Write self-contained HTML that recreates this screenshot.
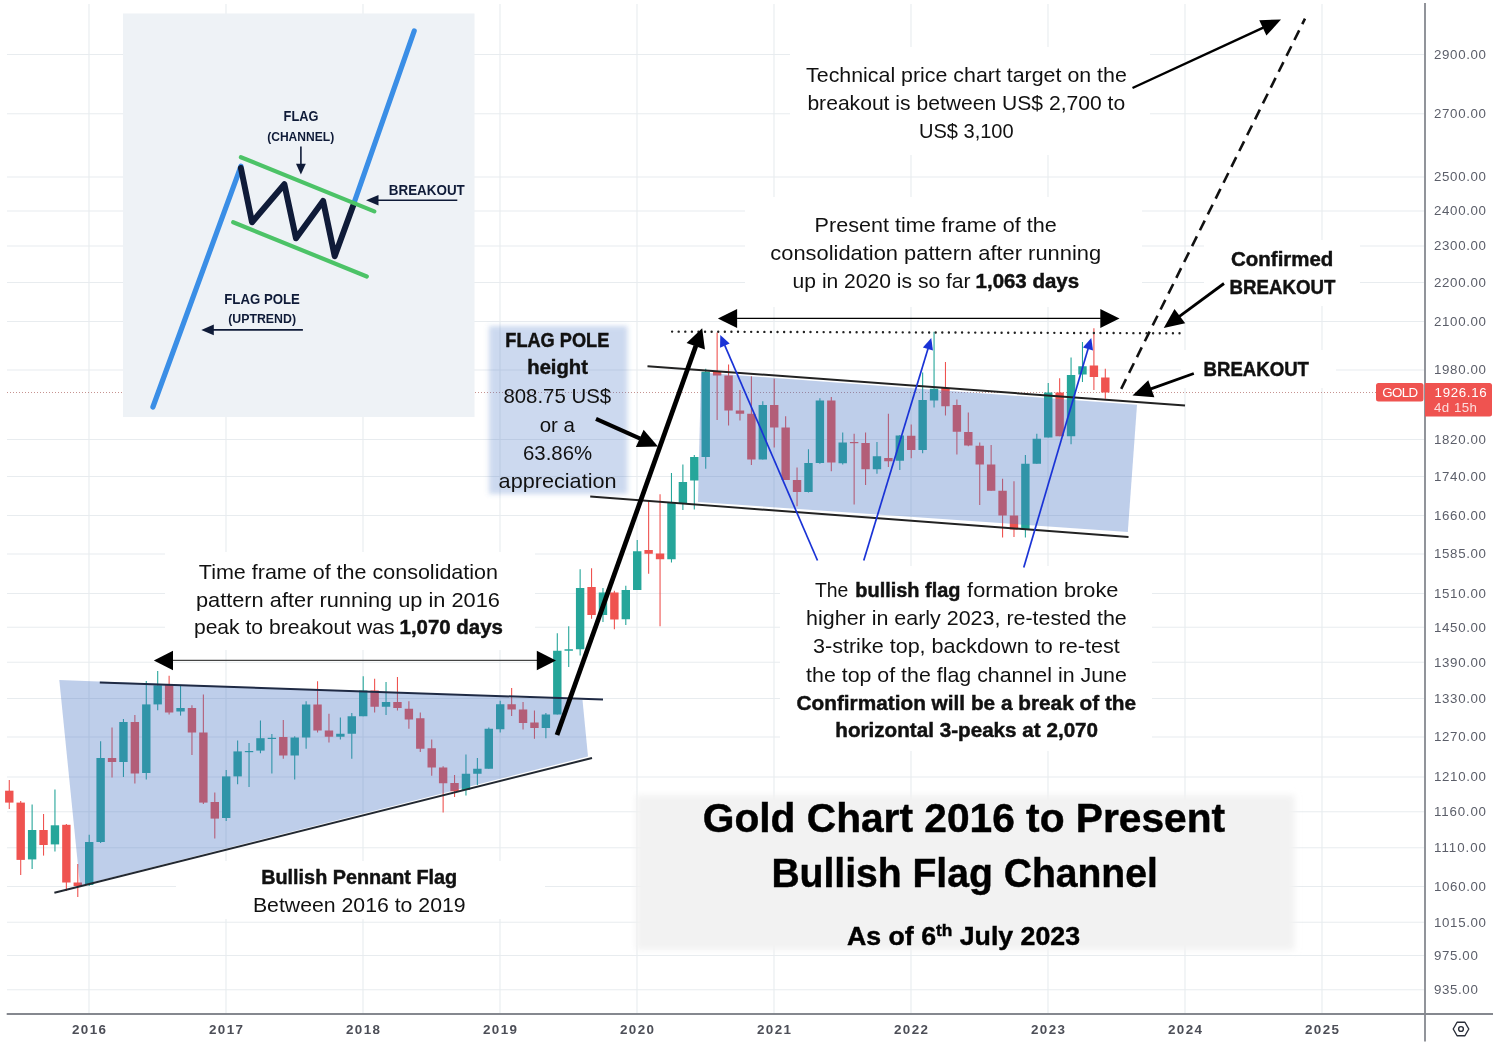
<!DOCTYPE html>
<html lang="en"><head><meta charset="utf-8"><title>Gold Chart 2016 to Present - Bullish Flag Channel</title>
<style>html,body{margin:0;padding:0;background:#fff;}body{width:1499px;height:1048px;overflow:hidden;}svg{display:block;}text{font-family:'Liberation Sans', Arial, sans-serif;}</style></head><body>
<svg width="1499" height="1048" viewBox="0 0 1499 1048">
<defs>
<filter id="soft" x="-10%" y="-10%" width="120%" height="120%"><feGaussianBlur stdDeviation="2.8"/></filter>
<filter id="soft2" x="-5%" y="-10%" width="110%" height="120%"><feGaussianBlur stdDeviation="3"/></filter>
</defs>
<rect width="1499" height="1048" fill="#ffffff"/>
<g stroke="#e8ecef" stroke-width="1.1" fill="none">
<line x1="7" y1="54.50" x2="1424" y2="54.50"/>
<line x1="7" y1="113.70" x2="1424" y2="113.70"/>
<line x1="7" y1="177.00" x2="1424" y2="177.00"/>
<line x1="7" y1="211.00" x2="1424" y2="211.00"/>
<line x1="7" y1="246.00" x2="1424" y2="246.00"/>
<line x1="7" y1="282.50" x2="1424" y2="282.50"/>
<line x1="7" y1="321.50" x2="1424" y2="321.50"/>
<line x1="7" y1="370.00" x2="1424" y2="370.00"/>
<line x1="7" y1="439.50" x2="1424" y2="439.50"/>
<line x1="7" y1="476.50" x2="1424" y2="476.50"/>
<line x1="7" y1="515.50" x2="1424" y2="515.50"/>
<line x1="7" y1="554.00" x2="1424" y2="554.00"/>
<line x1="7" y1="593.50" x2="1424" y2="593.50"/>
<line x1="7" y1="627.25" x2="1424" y2="627.25"/>
<line x1="7" y1="662.25" x2="1424" y2="662.25"/>
<line x1="7" y1="698.50" x2="1424" y2="698.50"/>
<line x1="7" y1="737.00" x2="1424" y2="737.00"/>
<line x1="7" y1="777.00" x2="1424" y2="777.00"/>
<line x1="7" y1="811.75" x2="1424" y2="811.75"/>
<line x1="7" y1="847.75" x2="1424" y2="847.75"/>
<line x1="7" y1="886.50" x2="1424" y2="886.50"/>
<line x1="7" y1="922.25" x2="1424" y2="922.25"/>
<line x1="7" y1="955.50" x2="1424" y2="955.50"/>
<line x1="7" y1="989.75" x2="1424" y2="989.75"/>
<line x1="89.0" y1="4" x2="89.0" y2="1013"/>
<line x1="226.0" y1="4" x2="226.0" y2="1013"/>
<line x1="363.0" y1="4" x2="363.0" y2="1013"/>
<line x1="500.0" y1="4" x2="500.0" y2="1013"/>
<line x1="637.0" y1="4" x2="637.0" y2="1013"/>
<line x1="774.0" y1="4" x2="774.0" y2="1013"/>
<line x1="911.0" y1="4" x2="911.0" y2="1013"/>
<line x1="1048.0" y1="4" x2="1048.0" y2="1013"/>
<line x1="1185.0" y1="4" x2="1185.0" y2="1013"/>
<line x1="1322.0" y1="4" x2="1322.0" y2="1013"/>
</g>
<g fill="#ffffff">
<rect x="790" y="47" width="360" height="108"/>
<rect x="745" y="197" width="397" height="110"/>
<rect x="165" y="552" width="370" height="98"/>
<rect x="176" y="861" width="369" height="58"/>
<rect x="780" y="566" width="372" height="185"/>
<rect x="1204" y="240" width="156" height="66"/>
<rect x="1181" y="350" width="155" height="38"/>
</g>
<line x1="7" y1="392.5" x2="1376" y2="392.5" stroke="#a85a56" stroke-width="1" stroke-dasharray="1 2" opacity="0.65"/>
<g>
<line x1="9.28" y1="780.00" x2="9.28" y2="809.00" stroke="#ef5350" stroke-width="1.1"/>
<rect x="5.08" y="790.70" width="8.40" height="11.90" fill="#ef5350"/>
<line x1="20.70" y1="801.00" x2="20.70" y2="875.00" stroke="#ef5350" stroke-width="1.1"/>
<rect x="16.50" y="802.60" width="8.40" height="57.30" fill="#ef5350"/>
<line x1="32.12" y1="804.50" x2="32.12" y2="869.00" stroke="#26a69a" stroke-width="1.1"/>
<rect x="27.92" y="830.00" width="8.40" height="29.40" fill="#26a69a"/>
<line x1="43.53" y1="814.00" x2="43.53" y2="855.60" stroke="#ef5350" stroke-width="1.1"/>
<rect x="39.33" y="830.00" width="8.40" height="15.00" fill="#ef5350"/>
<line x1="54.95" y1="789.50" x2="54.95" y2="851.50" stroke="#26a69a" stroke-width="1.1"/>
<rect x="50.75" y="825.30" width="8.40" height="19.10" fill="#26a69a"/>
<line x1="66.37" y1="824.00" x2="66.37" y2="891.00" stroke="#ef5350" stroke-width="1.1"/>
<rect x="62.17" y="824.80" width="8.40" height="57.70" fill="#ef5350"/>
<line x1="77.78" y1="864.00" x2="77.78" y2="897.00" stroke="#ef5350" stroke-width="1.1"/>
<rect x="73.58" y="882.50" width="8.40" height="3.50" fill="#ef5350"/>
<line x1="89.20" y1="834.80" x2="89.20" y2="886.00" stroke="#26a69a" stroke-width="1.1"/>
<rect x="85.00" y="842.00" width="8.40" height="43.00" fill="#26a69a"/>
<line x1="100.62" y1="741.30" x2="100.62" y2="843.00" stroke="#26a69a" stroke-width="1.1"/>
<rect x="96.42" y="758.00" width="8.40" height="84.00" fill="#26a69a"/>
<line x1="112.03" y1="727.50" x2="112.03" y2="777.60" stroke="#ef5350" stroke-width="1.1"/>
<rect x="107.83" y="758.00" width="8.40" height="4.00" fill="#ef5350"/>
<line x1="123.45" y1="719.00" x2="123.45" y2="777.00" stroke="#26a69a" stroke-width="1.1"/>
<rect x="119.25" y="722.00" width="8.40" height="40.00" fill="#26a69a"/>
<line x1="134.87" y1="715.00" x2="134.87" y2="783.50" stroke="#ef5350" stroke-width="1.1"/>
<rect x="130.67" y="722.00" width="8.40" height="51.50" fill="#ef5350"/>
<line x1="146.28" y1="681.00" x2="146.28" y2="779.50" stroke="#26a69a" stroke-width="1.1"/>
<rect x="142.09" y="704.40" width="8.40" height="68.60" fill="#26a69a"/>
<line x1="157.70" y1="671.00" x2="157.70" y2="710.30" stroke="#26a69a" stroke-width="1.1"/>
<rect x="153.50" y="685.30" width="8.40" height="19.10" fill="#26a69a"/>
<line x1="169.12" y1="675.80" x2="169.12" y2="714.40" stroke="#ef5350" stroke-width="1.1"/>
<rect x="164.92" y="684.60" width="8.40" height="27.90" fill="#ef5350"/>
<line x1="180.54" y1="685.80" x2="180.54" y2="715.60" stroke="#26a69a" stroke-width="1.1"/>
<rect x="176.34" y="708.00" width="8.40" height="3.50" fill="#26a69a"/>
<line x1="191.95" y1="705.30" x2="191.95" y2="755.00" stroke="#ef5350" stroke-width="1.1"/>
<rect x="187.75" y="708.00" width="8.40" height="24.50" fill="#ef5350"/>
<line x1="203.37" y1="694.60" x2="203.37" y2="804.00" stroke="#ef5350" stroke-width="1.1"/>
<rect x="199.17" y="732.50" width="8.40" height="70.10" fill="#ef5350"/>
<line x1="214.79" y1="792.40" x2="214.79" y2="838.40" stroke="#ef5350" stroke-width="1.1"/>
<rect x="210.59" y="802.00" width="8.40" height="16.60" fill="#ef5350"/>
<line x1="226.20" y1="770.00" x2="226.20" y2="821.00" stroke="#26a69a" stroke-width="1.1"/>
<rect x="222.00" y="776.40" width="8.40" height="41.60" fill="#26a69a"/>
<line x1="237.62" y1="740.60" x2="237.62" y2="784.30" stroke="#26a69a" stroke-width="1.1"/>
<rect x="233.42" y="751.40" width="8.40" height="25.00" fill="#26a69a"/>
<line x1="249.04" y1="743.00" x2="249.04" y2="787.00" stroke="#26a69a" stroke-width="1.1"/>
<rect x="244.84" y="751.00" width="8.40" height="1.20" fill="#26a69a"/>
<line x1="260.45" y1="720.40" x2="260.45" y2="753.30" stroke="#26a69a" stroke-width="1.1"/>
<rect x="256.25" y="738.20" width="8.40" height="12.40" fill="#26a69a"/>
<line x1="271.87" y1="734.00" x2="271.87" y2="773.50" stroke="#26a69a" stroke-width="1.1"/>
<rect x="267.67" y="737.80" width="8.40" height="1.20" fill="#26a69a"/>
<line x1="283.29" y1="720.00" x2="283.29" y2="758.75" stroke="#ef5350" stroke-width="1.1"/>
<rect x="279.09" y="737.00" width="8.40" height="18.50" fill="#ef5350"/>
<line x1="294.71" y1="736.25" x2="294.71" y2="779.50" stroke="#26a69a" stroke-width="1.1"/>
<rect x="290.51" y="737.50" width="8.40" height="18.00" fill="#26a69a"/>
<line x1="306.12" y1="701.25" x2="306.12" y2="748.75" stroke="#26a69a" stroke-width="1.1"/>
<rect x="301.92" y="704.50" width="8.40" height="33.00" fill="#26a69a"/>
<line x1="317.54" y1="681.25" x2="317.54" y2="732.50" stroke="#ef5350" stroke-width="1.1"/>
<rect x="313.34" y="704.50" width="8.40" height="26.00" fill="#ef5350"/>
<line x1="328.96" y1="713.75" x2="328.96" y2="742.50" stroke="#ef5350" stroke-width="1.1"/>
<rect x="324.76" y="730.50" width="8.40" height="6.25" fill="#ef5350"/>
<line x1="340.37" y1="717.50" x2="340.37" y2="739.50" stroke="#26a69a" stroke-width="1.1"/>
<rect x="336.17" y="733.75" width="8.40" height="3.00" fill="#26a69a"/>
<line x1="351.79" y1="713.00" x2="351.79" y2="758.75" stroke="#26a69a" stroke-width="1.1"/>
<rect x="347.59" y="716.25" width="8.40" height="17.50" fill="#26a69a"/>
<line x1="363.21" y1="676.25" x2="363.21" y2="716.25" stroke="#26a69a" stroke-width="1.1"/>
<rect x="359.01" y="690.50" width="8.40" height="25.75" fill="#26a69a"/>
<line x1="374.62" y1="678.75" x2="374.62" y2="712.50" stroke="#ef5350" stroke-width="1.1"/>
<rect x="370.43" y="690.50" width="8.40" height="16.25" fill="#ef5350"/>
<line x1="386.04" y1="682.00" x2="386.04" y2="715.00" stroke="#26a69a" stroke-width="1.1"/>
<rect x="381.84" y="702.00" width="8.40" height="4.75" fill="#26a69a"/>
<line x1="397.46" y1="677.00" x2="397.46" y2="710.50" stroke="#ef5350" stroke-width="1.1"/>
<rect x="393.26" y="702.00" width="8.40" height="6.00" fill="#ef5350"/>
<line x1="408.88" y1="701.25" x2="408.88" y2="728.75" stroke="#ef5350" stroke-width="1.1"/>
<rect x="404.68" y="708.75" width="8.40" height="10.75" fill="#ef5350"/>
<line x1="420.29" y1="712.50" x2="420.29" y2="752.00" stroke="#ef5350" stroke-width="1.1"/>
<rect x="416.09" y="718.25" width="8.40" height="30.50" fill="#ef5350"/>
<line x1="431.71" y1="739.50" x2="431.71" y2="775.75" stroke="#ef5350" stroke-width="1.1"/>
<rect x="427.51" y="748.25" width="8.40" height="19.25" fill="#ef5350"/>
<line x1="443.13" y1="766.25" x2="443.13" y2="812.50" stroke="#ef5350" stroke-width="1.1"/>
<rect x="438.93" y="767.50" width="8.40" height="15.75" fill="#ef5350"/>
<line x1="454.54" y1="775.00" x2="454.54" y2="797.00" stroke="#ef5350" stroke-width="1.1"/>
<rect x="450.34" y="783.00" width="8.40" height="8.25" fill="#ef5350"/>
<line x1="465.96" y1="754.50" x2="465.96" y2="795.50" stroke="#26a69a" stroke-width="1.1"/>
<rect x="461.76" y="773.75" width="8.40" height="16.25" fill="#26a69a"/>
<line x1="477.38" y1="758.00" x2="477.38" y2="785.00" stroke="#26a69a" stroke-width="1.1"/>
<rect x="473.18" y="768.75" width="8.40" height="5.00" fill="#26a69a"/>
<line x1="488.79" y1="727.50" x2="488.79" y2="768.75" stroke="#26a69a" stroke-width="1.1"/>
<rect x="484.59" y="728.75" width="8.40" height="40.00" fill="#26a69a"/>
<line x1="500.21" y1="700.75" x2="500.21" y2="732.50" stroke="#26a69a" stroke-width="1.1"/>
<rect x="496.01" y="704.25" width="8.40" height="25.00" fill="#26a69a"/>
<line x1="511.63" y1="688.00" x2="511.63" y2="716.00" stroke="#ef5350" stroke-width="1.1"/>
<rect x="507.43" y="704.25" width="8.40" height="5.25" fill="#ef5350"/>
<line x1="523.05" y1="702.00" x2="523.05" y2="729.50" stroke="#ef5350" stroke-width="1.1"/>
<rect x="518.85" y="709.50" width="8.40" height="13.50" fill="#ef5350"/>
<line x1="534.46" y1="710.50" x2="534.46" y2="738.75" stroke="#ef5350" stroke-width="1.1"/>
<rect x="530.26" y="722.50" width="8.40" height="5.50" fill="#ef5350"/>
<line x1="545.88" y1="713.00" x2="545.88" y2="738.25" stroke="#26a69a" stroke-width="1.1"/>
<rect x="541.68" y="714.50" width="8.40" height="13.50" fill="#26a69a"/>
<line x1="557.30" y1="633.25" x2="557.30" y2="714.50" stroke="#26a69a" stroke-width="1.1"/>
<rect x="553.10" y="650.75" width="8.40" height="63.75" fill="#26a69a"/>
<line x1="568.71" y1="626.25" x2="568.71" y2="667.00" stroke="#26a69a" stroke-width="1.1"/>
<rect x="564.51" y="649.25" width="8.40" height="1.50" fill="#26a69a"/>
<line x1="580.13" y1="569.25" x2="580.13" y2="655.50" stroke="#26a69a" stroke-width="1.1"/>
<rect x="575.93" y="588.00" width="8.40" height="61.25" fill="#26a69a"/>
<line x1="591.55" y1="568.25" x2="591.55" y2="618.75" stroke="#ef5350" stroke-width="1.1"/>
<rect x="587.35" y="587.00" width="8.40" height="28.00" fill="#ef5350"/>
<line x1="602.97" y1="588.00" x2="602.97" y2="622.00" stroke="#26a69a" stroke-width="1.1"/>
<rect x="598.76" y="592.50" width="8.40" height="22.50" fill="#26a69a"/>
<line x1="614.38" y1="590.75" x2="614.38" y2="629.25" stroke="#ef5350" stroke-width="1.1"/>
<rect x="610.18" y="592.50" width="8.40" height="27.00" fill="#ef5350"/>
<line x1="625.80" y1="585.75" x2="625.80" y2="625.00" stroke="#26a69a" stroke-width="1.1"/>
<rect x="621.60" y="590.00" width="8.40" height="29.25" fill="#26a69a"/>
<line x1="637.22" y1="540.00" x2="637.22" y2="590.00" stroke="#26a69a" stroke-width="1.1"/>
<rect x="633.02" y="551.25" width="8.40" height="38.75" fill="#26a69a"/>
<line x1="648.63" y1="500.00" x2="648.63" y2="573.75" stroke="#ef5350" stroke-width="1.1"/>
<rect x="644.43" y="550.00" width="8.40" height="3.75" fill="#ef5350"/>
<line x1="660.05" y1="494.25" x2="660.05" y2="626.25" stroke="#ef5350" stroke-width="1.1"/>
<rect x="655.85" y="553.50" width="8.40" height="5.75" fill="#ef5350"/>
<line x1="671.47" y1="473.00" x2="671.47" y2="562.50" stroke="#26a69a" stroke-width="1.1"/>
<rect x="667.27" y="502.50" width="8.40" height="56.75" fill="#26a69a"/>
<line x1="682.88" y1="464.50" x2="682.88" y2="510.00" stroke="#26a69a" stroke-width="1.1"/>
<rect x="678.68" y="482.00" width="8.40" height="21.25" fill="#26a69a"/>
<line x1="694.30" y1="455.00" x2="694.30" y2="509.50" stroke="#26a69a" stroke-width="1.1"/>
<rect x="690.10" y="457.00" width="8.40" height="23.50" fill="#26a69a"/>
<line x1="705.72" y1="368.75" x2="705.72" y2="468.75" stroke="#26a69a" stroke-width="1.1"/>
<rect x="701.52" y="371.75" width="8.40" height="85.25" fill="#26a69a"/>
<line x1="717.13" y1="332.50" x2="717.13" y2="420.00" stroke="#ef5350" stroke-width="1.1"/>
<rect x="712.93" y="371.75" width="8.40" height="3.75" fill="#ef5350"/>
<line x1="728.55" y1="364.50" x2="728.55" y2="425.50" stroke="#ef5350" stroke-width="1.1"/>
<rect x="724.35" y="375.50" width="8.40" height="35.00" fill="#ef5350"/>
<line x1="739.97" y1="390.00" x2="739.97" y2="420.50" stroke="#ef5350" stroke-width="1.1"/>
<rect x="735.77" y="410.50" width="8.40" height="3.25" fill="#ef5350"/>
<line x1="751.39" y1="376.25" x2="751.39" y2="465.00" stroke="#ef5350" stroke-width="1.1"/>
<rect x="747.19" y="413.75" width="8.40" height="45.75" fill="#ef5350"/>
<line x1="762.80" y1="401.25" x2="762.80" y2="459.50" stroke="#26a69a" stroke-width="1.1"/>
<rect x="758.60" y="405.00" width="8.40" height="54.50" fill="#26a69a"/>
<line x1="774.22" y1="378.75" x2="774.22" y2="447.50" stroke="#ef5350" stroke-width="1.1"/>
<rect x="770.02" y="405.00" width="8.40" height="22.50" fill="#ef5350"/>
<line x1="785.64" y1="416.25" x2="785.64" y2="480.00" stroke="#ef5350" stroke-width="1.1"/>
<rect x="781.44" y="427.50" width="8.40" height="52.50" fill="#ef5350"/>
<line x1="797.05" y1="467.50" x2="797.05" y2="506.25" stroke="#ef5350" stroke-width="1.1"/>
<rect x="792.85" y="480.00" width="8.40" height="12.00" fill="#ef5350"/>
<line x1="808.47" y1="449.25" x2="808.47" y2="492.50" stroke="#26a69a" stroke-width="1.1"/>
<rect x="804.27" y="463.00" width="8.40" height="29.00" fill="#26a69a"/>
<line x1="819.89" y1="398.25" x2="819.89" y2="463.75" stroke="#26a69a" stroke-width="1.1"/>
<rect x="815.69" y="400.50" width="8.40" height="62.50" fill="#26a69a"/>
<line x1="831.31" y1="397.00" x2="831.31" y2="471.25" stroke="#ef5350" stroke-width="1.1"/>
<rect x="827.11" y="400.50" width="8.40" height="62.00" fill="#ef5350"/>
<line x1="842.72" y1="432.50" x2="842.72" y2="464.50" stroke="#26a69a" stroke-width="1.1"/>
<rect x="838.52" y="442.50" width="8.40" height="20.75" fill="#26a69a"/>
<line x1="854.14" y1="433.75" x2="854.14" y2="504.50" stroke="#ef5350" stroke-width="1.1"/>
<rect x="849.94" y="442.00" width="8.40" height="1.20" fill="#ef5350"/>
<line x1="865.56" y1="432.50" x2="865.56" y2="485.00" stroke="#ef5350" stroke-width="1.1"/>
<rect x="861.36" y="443.00" width="8.40" height="26.25" fill="#ef5350"/>
<line x1="876.97" y1="442.00" x2="876.97" y2="473.75" stroke="#26a69a" stroke-width="1.1"/>
<rect x="872.77" y="456.25" width="8.40" height="13.00" fill="#26a69a"/>
<line x1="888.39" y1="413.75" x2="888.39" y2="467.00" stroke="#ef5350" stroke-width="1.1"/>
<rect x="884.19" y="458.00" width="8.40" height="3.25" fill="#ef5350"/>
<line x1="899.81" y1="435.00" x2="899.81" y2="470.00" stroke="#26a69a" stroke-width="1.1"/>
<rect x="895.61" y="435.50" width="8.40" height="25.25" fill="#26a69a"/>
<line x1="911.22" y1="424.50" x2="911.22" y2="458.25" stroke="#ef5350" stroke-width="1.1"/>
<rect x="907.02" y="435.75" width="8.40" height="14.25" fill="#ef5350"/>
<line x1="922.64" y1="372.50" x2="922.64" y2="453.25" stroke="#26a69a" stroke-width="1.1"/>
<rect x="918.44" y="400.00" width="8.40" height="50.00" fill="#26a69a"/>
<line x1="934.06" y1="331.75" x2="934.06" y2="407.50" stroke="#26a69a" stroke-width="1.1"/>
<rect x="929.86" y="388.75" width="8.40" height="11.75" fill="#26a69a"/>
<line x1="945.48" y1="362.00" x2="945.48" y2="415.50" stroke="#ef5350" stroke-width="1.1"/>
<rect x="941.27" y="388.00" width="8.40" height="18.25" fill="#ef5350"/>
<line x1="956.89" y1="399.50" x2="956.89" y2="454.50" stroke="#ef5350" stroke-width="1.1"/>
<rect x="952.69" y="405.00" width="8.40" height="26.75" fill="#ef5350"/>
<line x1="968.31" y1="412.50" x2="968.31" y2="446.25" stroke="#ef5350" stroke-width="1.1"/>
<rect x="964.11" y="432.00" width="8.40" height="13.50" fill="#ef5350"/>
<line x1="979.73" y1="442.50" x2="979.73" y2="505.00" stroke="#ef5350" stroke-width="1.1"/>
<rect x="975.53" y="445.75" width="8.40" height="18.75" fill="#ef5350"/>
<line x1="991.14" y1="445.00" x2="991.14" y2="490.75" stroke="#ef5350" stroke-width="1.1"/>
<rect x="986.94" y="464.50" width="8.40" height="26.25" fill="#ef5350"/>
<line x1="1002.56" y1="478.75" x2="1002.56" y2="537.50" stroke="#ef5350" stroke-width="1.1"/>
<rect x="998.36" y="490.75" width="8.40" height="24.75" fill="#ef5350"/>
<line x1="1013.98" y1="481.25" x2="1013.98" y2="537.00" stroke="#ef5350" stroke-width="1.1"/>
<rect x="1009.78" y="515.50" width="8.40" height="14.00" fill="#ef5350"/>
<line x1="1025.39" y1="455.00" x2="1025.39" y2="537.50" stroke="#26a69a" stroke-width="1.1"/>
<rect x="1021.19" y="463.75" width="8.40" height="65.75" fill="#26a69a"/>
<line x1="1036.81" y1="433.75" x2="1036.81" y2="463.75" stroke="#26a69a" stroke-width="1.1"/>
<rect x="1032.61" y="438.75" width="8.40" height="25.00" fill="#26a69a"/>
<line x1="1048.23" y1="383.00" x2="1048.23" y2="437.50" stroke="#26a69a" stroke-width="1.1"/>
<rect x="1044.03" y="392.50" width="8.40" height="45.00" fill="#26a69a"/>
<line x1="1059.64" y1="378.25" x2="1059.64" y2="436.25" stroke="#ef5350" stroke-width="1.1"/>
<rect x="1055.44" y="392.50" width="8.40" height="43.75" fill="#ef5350"/>
<line x1="1071.06" y1="357.50" x2="1071.06" y2="444.25" stroke="#26a69a" stroke-width="1.1"/>
<rect x="1066.86" y="375.00" width="8.40" height="61.25" fill="#26a69a"/>
<line x1="1082.48" y1="342.00" x2="1082.48" y2="382.00" stroke="#26a69a" stroke-width="1.1"/>
<rect x="1078.28" y="366.25" width="8.40" height="8.25" fill="#26a69a"/>
<line x1="1093.90" y1="328.25" x2="1093.90" y2="390.00" stroke="#ef5350" stroke-width="1.1"/>
<rect x="1089.70" y="365.50" width="8.40" height="11.50" fill="#ef5350"/>
<line x1="1105.31" y1="368.75" x2="1105.31" y2="398.75" stroke="#ef5350" stroke-width="1.1"/>
<rect x="1101.11" y="377.50" width="8.40" height="15.00" fill="#ef5350"/>
</g>
<g>
<rect x="123" y="13.5" width="351.5" height="403.5" fill="#eef2f6"/>
<g fill="none" stroke-linecap="round" stroke-linejoin="round">
<path d="M233.2 222.2 L366.8 276.5" stroke="#4cc367" stroke-width="4.2"/>
<path d="M152.9 407 L240.9 166.3" stroke="#3a8ee6" stroke-width="5.2"/>
<path d="M353.6 204.2 L414.2 31" stroke="#3a8ee6" stroke-width="5.2"/>
<path d="M240.9 168 L252 222.2 L284.4 184.3 L296 238.3 L323.1 200.9 L334.7 256.2 L353.2 205.5" stroke="#0f1b38" stroke-width="6"/>
<path d="M240.9 157.2 L374.3 211.4" stroke="#4cc367" stroke-width="4.2"/>
</g>
<g stroke="#0f1b38" stroke-width="1.6" fill="#0f1b38">
<line x1="300.9" y1="146.5" x2="300.9" y2="166"/><path d="M300.9 174.6 L296 163.8 L305.8 163.8 Z" stroke="none"/>
<line x1="457.3" y1="200.3" x2="376" y2="200.3"/><path d="M366 200.3 L378.5 195 L378.5 205.6 Z" stroke="none"/>
<line x1="302.9" y1="329.9" x2="211" y2="329.9"/><path d="M201.3 329.9 L213.8 324.6 L213.8 335.2 Z" stroke="none"/>
</g>
<g fill="#0f1b38" font-weight="700">
<text x="283.6" y="121.3" font-size="15.3" textLength="34.8" lengthAdjust="spacingAndGlyphs">FLAG</text>
<text x="267.2" y="140.6" font-size="13.5" textLength="67" lengthAdjust="spacingAndGlyphs">(CHANNEL)</text>
<text x="388.8" y="195.2" font-size="15.3" textLength="76" lengthAdjust="spacingAndGlyphs">BREAKOUT</text>
<text x="224.3" y="303.9" font-size="15.3" textLength="75.6" lengthAdjust="spacingAndGlyphs">FLAG POLE</text>
<text x="228.2" y="323.2" font-size="13.5" textLength="67.8" lengthAdjust="spacingAndGlyphs">(UPTREND)</text>
</g>
</g>
<polygon points="59.3,680 582.5,700 588,756.5 80,885.5" fill="rgba(68,114,196,0.35)"/>
<polygon points="701,372.5 1137,404.8 1127.8,532 698,502" fill="rgba(68,114,196,0.35)"/>
<rect x="489" y="326" width="138.5" height="168" fill="rgba(68,114,196,0.27)" filter="url(#soft)"/>
<rect x="636" y="795" width="658.5" height="155" fill="#f2f2f2" filter="url(#soft2)"/>
<g fill="none" stroke-linecap="butt">
<line x1="99.8" y1="682.4" x2="603" y2="699.6" stroke="#1f2a44" stroke-width="2"/>
<line x1="54.4" y1="892.8" x2="592" y2="758" stroke="#222831" stroke-width="2"/>
<line x1="647.5" y1="366.2" x2="1185" y2="405.6" stroke="#222222" stroke-width="2"/>
<line x1="590.2" y1="496.6" x2="1128.5" y2="537" stroke="#222222" stroke-width="2"/>
<line x1="672.1" y1="331.6" x2="1186" y2="333.3" stroke="#222222" stroke-width="2.4" stroke-linecap="round" stroke-dasharray="0.01 6.58"/>
<line x1="1121.2" y1="388.8" x2="1305" y2="18.7" stroke="#111111" stroke-width="2.6" stroke-dasharray="10.8 6.9"/>
</g>
<g>
<line x1="817.50" y1="560.50" x2="724.66" y2="345.20" stroke="#1a33d6" stroke-width="1.7"/><path d="M720.30 335.10 L729.67 343.58 L720.03 347.74 Z" fill="#1a33d6"/>
<line x1="863.75" y1="560.50" x2="928.06" y2="348.53" stroke="#1a33d6" stroke-width="1.7"/><path d="M931.25 338.00 L932.94 350.53 L922.89 347.48 Z" fill="#1a33d6"/>
<line x1="1023.75" y1="567.50" x2="1088.15" y2="348.55" stroke="#1a33d6" stroke-width="1.7"/><path d="M1091.25 338.00 L1093.04 350.51 L1082.97 347.55 Z" fill="#1a33d6"/>
<line x1="557.00" y1="735.00" x2="695.91" y2="345.81" stroke="#000" stroke-width="4.8"/><path d="M702.20 328.20 L704.93 349.56 L686.56 343.01 Z" fill="#000"/>
<line x1="596.00" y1="418.80" x2="640.20" y2="438.55" stroke="#000" stroke-width="4.2"/><path d="M658.00 446.50 L635.86 447.02 L643.61 429.67 Z" fill="#000"/>
<line x1="173.00" y1="660.40" x2="537.30" y2="660.40" stroke="#444" stroke-width="1.3"/><path d="M556.00 660.40 L536.80 670.15 L536.80 650.65 Z" fill="#000"/><path d="M153.80 660.40 L173.00 670.15 L173.00 650.65 Z" fill="#000"/>
<line x1="737.10" y1="318.40" x2="1100.80" y2="318.40" stroke="#000" stroke-width="1.3"/><path d="M1119.50 318.40 L1100.30 327.90 L1100.30 308.90 Z" fill="#000"/><path d="M717.90 318.40 L737.10 327.90 L737.10 308.90 Z" fill="#000"/>
<line x1="1132.50" y1="88.00" x2="1263.29" y2="27.67" stroke="#000" stroke-width="2.4"/><path d="M1281.00 19.50 L1266.40 35.60 L1259.28 20.16 Z" fill="#000"/>
<line x1="1224.00" y1="283.50" x2="1179.44" y2="316.41" stroke="#000" stroke-width="2.8"/><path d="M1163.75 328.00 L1174.49 308.88 L1185.18 323.36 Z" fill="#000"/>
<line x1="1193.80" y1="373.50" x2="1150.85" y2="388.91" stroke="#000" stroke-width="2.8"/><path d="M1132.50 395.50 L1148.28 380.27 L1154.36 397.22 Z" fill="#000"/>
</g>
<g>
<text x="806.1" y="81.8" font-size="20.2" fill="#111" textLength="320.7" lengthAdjust="spacingAndGlyphs">Technical price chart target on the</text>
<text x="807.4" y="109.7" font-size="20.2" fill="#111" textLength="317.8" lengthAdjust="spacingAndGlyphs">breakout is between US$ 2,700 to</text>
<text x="918.9" y="137.6" font-size="20.2" fill="#111" textLength="94.8" lengthAdjust="spacingAndGlyphs">US$ 3,100</text>
<text x="814.6" y="231.7" font-size="20.2" fill="#111" textLength="242.1" lengthAdjust="spacingAndGlyphs">Present time frame of the</text>
<text x="770.3" y="260.1" font-size="20.2" fill="#111" textLength="330.8" lengthAdjust="spacingAndGlyphs">consolidation pattern after running</text>
<text x="792.6" y="287.5" font-size="20.2" fill="#111" textLength="178.0" lengthAdjust="spacingAndGlyphs">up in 2020 is so far</text>
<text x="975.6" y="287.5" font-size="20.2" font-weight="700" stroke="#111" stroke-width="0.45" fill="#111" textLength="103.4" lengthAdjust="spacingAndGlyphs">1,063 days</text>
<text x="198.8" y="578.7" font-size="20.2" fill="#111" textLength="299.2" lengthAdjust="spacingAndGlyphs">Time frame of the consolidation</text>
<text x="195.9" y="606.5" font-size="20.2" fill="#111" textLength="304.1" lengthAdjust="spacingAndGlyphs">pattern after running up in 2016</text>
<text x="193.9" y="634.0" font-size="20.2" fill="#111" textLength="200.6" lengthAdjust="spacingAndGlyphs">peak to breakout was</text>
<text x="399.6" y="634.0" font-size="20.2" font-weight="700" stroke="#111" stroke-width="0.45" fill="#111" textLength="103.3" lengthAdjust="spacingAndGlyphs">1,070 days</text>
<text x="261.2" y="883.8" font-size="20.2" font-weight="700" stroke="#111" stroke-width="0.45" fill="#111" textLength="196.0" lengthAdjust="spacingAndGlyphs">Bullish Pennant Flag</text>
<text x="252.9" y="912.1" font-size="20.2" fill="#111" textLength="212.7" lengthAdjust="spacingAndGlyphs">Between 2016 to 2019</text>
<text x="815.0" y="597.2" font-size="20.2" fill="#111" textLength="33.4" lengthAdjust="spacingAndGlyphs">The</text>
<text x="855.3" y="597.2" font-size="20.2" font-weight="700" stroke="#111" stroke-width="0.45" fill="#111" textLength="105.2" lengthAdjust="spacingAndGlyphs">bullish flag</text>
<text x="967.1" y="597.2" font-size="20.2" fill="#111" textLength="151.3" lengthAdjust="spacingAndGlyphs">formation broke</text>
<text x="806.1" y="625.1" font-size="20.2" fill="#111" textLength="320.7" lengthAdjust="spacingAndGlyphs">higher in early 2023, re-tested the</text>
<text x="813.0" y="653.0" font-size="20.2" fill="#111" textLength="306.7" lengthAdjust="spacingAndGlyphs">3-strike top, backdown to re-test</text>
<text x="806.1" y="681.6" font-size="20.2" fill="#111" textLength="320.7" lengthAdjust="spacingAndGlyphs">the top of the flag channel in June</text>
<text x="796.5" y="709.5" font-size="20.2" font-weight="700" stroke="#111" stroke-width="0.45" fill="#111" textLength="339.6" lengthAdjust="spacingAndGlyphs">Confirmation will be a break of the</text>
<text x="835.3" y="737.4" font-size="20.2" font-weight="700" stroke="#111" stroke-width="0.45" fill="#111" textLength="262.8" lengthAdjust="spacingAndGlyphs">horizontal 3-peaks at 2,070</text>
<text x="505.3" y="346.6" font-size="20.2" font-weight="700" stroke="#111" stroke-width="0.45" fill="#111" textLength="104.0" lengthAdjust="spacingAndGlyphs">FLAG POLE</text>
<text x="527.3" y="374.3" font-size="20.2" font-weight="700" stroke="#111" stroke-width="0.45" fill="#111" textLength="60.6" lengthAdjust="spacingAndGlyphs">height</text>
<text x="503.4" y="403.0" font-size="20.2" fill="#111" textLength="107.8" lengthAdjust="spacingAndGlyphs">808.75 US$</text>
<text x="539.7" y="431.6" font-size="20.2" fill="#111" textLength="35.3" lengthAdjust="spacingAndGlyphs">or a</text>
<text x="523.0" y="459.8" font-size="20.2" fill="#111" textLength="69.1" lengthAdjust="spacingAndGlyphs">63.86%</text>
<text x="498.6" y="487.5" font-size="20.2" fill="#111" textLength="118.0" lengthAdjust="spacingAndGlyphs">appreciation</text>
<text x="1231.1" y="265.7" font-size="20.2" font-weight="700" stroke="#111" stroke-width="0.45" fill="#111" textLength="102.2" lengthAdjust="spacingAndGlyphs">Confirmed</text>
<text x="1229.5" y="293.6" font-size="20.2" font-weight="700" stroke="#111" stroke-width="0.45" fill="#111" textLength="105.9" lengthAdjust="spacingAndGlyphs">BREAKOUT</text>
<text x="1203.5" y="375.7" font-size="20.2" font-weight="700" stroke="#111" stroke-width="0.45" fill="#111" textLength="105.5" lengthAdjust="spacingAndGlyphs">BREAKOUT</text>
<text x="702.8" y="831.6" font-size="40.4" font-weight="700" stroke="#000" stroke-width="0.45" fill="#000" textLength="522.3" lengthAdjust="spacingAndGlyphs">Gold Chart 2016 to Present</text>
<text x="771.4" y="887.0" font-size="40.4" font-weight="700" stroke="#000" stroke-width="0.45" fill="#000" textLength="386.4" lengthAdjust="spacingAndGlyphs">Bullish Flag Channel</text>
<text x="847" y="944.6" font-size="25.6" font-weight="700" fill="#000" stroke="#000" stroke-width="0.45" textLength="233" lengthAdjust="spacingAndGlyphs">As of 6<tspan font-size="16.5" dy="-8.5">th</tspan><tspan dy="8.5"> July 2023</tspan></text>
</g>
<g stroke="#85888f" stroke-width="1.8">
<line x1="1425" y1="3" x2="1425" y2="1041.5"/>
<line x1="6.7" y1="1014" x2="1493" y2="1014"/>
</g>
<g fill="#5b5e69" font-size="13.3">
<text x="1434" y="58.7" textLength="52.0" lengthAdjust="spacing">2900.00</text>
<text x="1434" y="117.9" textLength="52.0" lengthAdjust="spacing">2700.00</text>
<text x="1434" y="181.2" textLength="52.0" lengthAdjust="spacing">2500.00</text>
<text x="1434" y="215.2" textLength="52.0" lengthAdjust="spacing">2400.00</text>
<text x="1434" y="250.2" textLength="52.0" lengthAdjust="spacing">2300.00</text>
<text x="1434" y="286.7" textLength="52.0" lengthAdjust="spacing">2200.00</text>
<text x="1434" y="325.7" textLength="52.0" lengthAdjust="spacing">2100.00</text>
<text x="1434" y="374.2" textLength="52.0" lengthAdjust="spacing">1980.00</text>
<text x="1434" y="443.7" textLength="52.0" lengthAdjust="spacing">1820.00</text>
<text x="1434" y="480.7" textLength="52.0" lengthAdjust="spacing">1740.00</text>
<text x="1434" y="519.7" textLength="52.0" lengthAdjust="spacing">1660.00</text>
<text x="1434" y="558.2" textLength="52.0" lengthAdjust="spacing">1585.00</text>
<text x="1434" y="597.7" textLength="52.0" lengthAdjust="spacing">1510.00</text>
<text x="1434" y="631.5" textLength="52.0" lengthAdjust="spacing">1450.00</text>
<text x="1434" y="666.5" textLength="52.0" lengthAdjust="spacing">1390.00</text>
<text x="1434" y="702.7" textLength="52.0" lengthAdjust="spacing">1330.00</text>
<text x="1434" y="741.2" textLength="52.0" lengthAdjust="spacing">1270.00</text>
<text x="1434" y="781.2" textLength="52.0" lengthAdjust="spacing">1210.00</text>
<text x="1434" y="816.0" textLength="52.0" lengthAdjust="spacing">1160.00</text>
<text x="1434" y="852.0" textLength="52.0" lengthAdjust="spacing">1110.00</text>
<text x="1434" y="890.7" textLength="52.0" lengthAdjust="spacing">1060.00</text>
<text x="1434" y="926.5" textLength="52.0" lengthAdjust="spacing">1015.00</text>
<text x="1434" y="959.7" textLength="43.8" lengthAdjust="spacing">975.00</text>
<text x="1434" y="994.0" textLength="43.8" lengthAdjust="spacing">935.00</text>
</g>
<g fill="#4c4e57" font-size="13.4" font-weight="700" text-anchor="middle">
<text x="89.0" y="1034.1" textLength="34" lengthAdjust="spacing">2016</text>
<text x="226.0" y="1034.1" textLength="34" lengthAdjust="spacing">2017</text>
<text x="363.0" y="1034.1" textLength="34" lengthAdjust="spacing">2018</text>
<text x="500.0" y="1034.1" textLength="34" lengthAdjust="spacing">2019</text>
<text x="637.0" y="1034.1" textLength="34" lengthAdjust="spacing">2020</text>
<text x="774.0" y="1034.1" textLength="34" lengthAdjust="spacing">2021</text>
<text x="911.0" y="1034.1" textLength="34" lengthAdjust="spacing">2022</text>
<text x="1048.0" y="1034.1" textLength="34" lengthAdjust="spacing">2023</text>
<text x="1185.0" y="1034.1" textLength="34" lengthAdjust="spacing">2024</text>
<text x="1322.0" y="1034.1" textLength="34" lengthAdjust="spacing">2025</text>
</g>
<rect x="1376" y="383" width="47.5" height="18.5" rx="2.5" fill="#ef5350"/>
<path d="M1425 383 H1489.5 a2.5 2.5 0 0 1 2.5 2.5 V414 a2.5 2.5 0 0 1 -2.5 2.5 H1425 Z" fill="#ef5350"/>
<g fill="#ffffff" font-size="13.3">
<text x="1382.3" y="396.9" textLength="35.8" lengthAdjust="spacing">GOLD</text>
<text x="1434.6" y="396.9" textLength="52" lengthAdjust="spacing">1926.16</text>
<text x="1434" y="411.8" textLength="43" lengthAdjust="spacing" fill-opacity="0.8">4d 15h</text>
</g>
<polygon points="1468.80,1029.00 1464.90,1035.75 1457.10,1035.75 1453.20,1029.00 1457.10,1022.25 1464.90,1022.25" fill="none" stroke="#2a2e39" stroke-width="1.4" stroke-linejoin="round"/>
<circle cx="1461" cy="1029" r="2.4" fill="none" stroke="#2a2e39" stroke-width="1.4"/>
</svg></body></html>
